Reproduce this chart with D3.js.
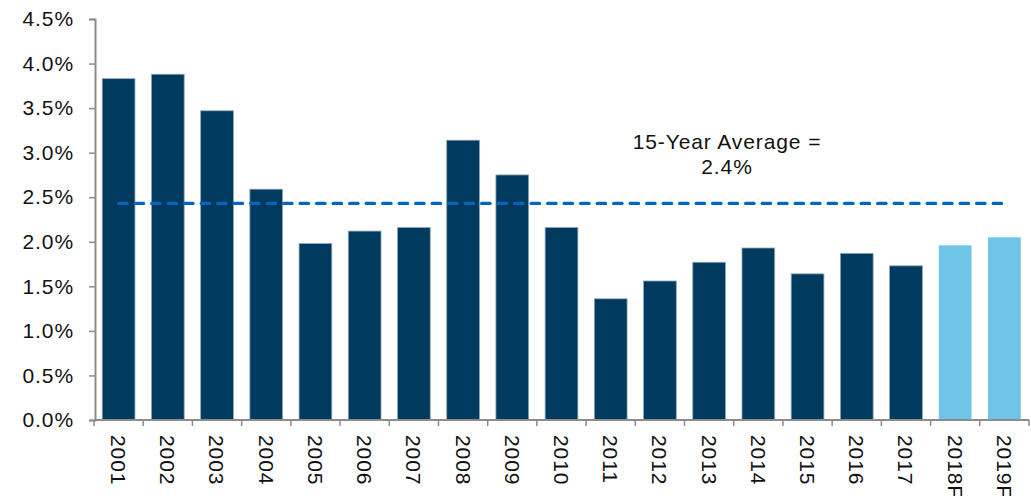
<!DOCTYPE html>
<html>
<head>
<meta charset="utf-8">
<script src="https://cdn.jsdelivr.net/npm/d3@7"></script>
<style>
  html, body { margin: 0; padding: 0; background: #fff; }
  svg text { font-family: "Liberation Sans", Arial, Helvetica, sans-serif; fill: #111; }
</style>
</head>
<body>
<svg id="chart" width="1031" height="496"></svg>
<script>
// Annual rate by year (2018F/2019F are forecasts)
const categories = ["2001","2002","2003","2004","2005","2006","2007","2008","2009","2010",
                    "2011","2012","2013","2014","2015","2016","2017","2018F","2019F"];
const values = [3.83, 3.88, 3.47, 2.59, 1.98, 2.12, 2.16, 3.14, 2.75, 2.16,
                1.36, 1.56, 1.77, 1.93, 1.64, 1.87, 1.73, 1.96, 2.05];
const forecast = ["2018F", "2019F"];
const yTicks = [0, 0.5, 1.0, 1.5, 2.0, 2.5, 3.0, 3.5, 4.0, 4.5];
const average = 2.43;
const averageLabel = ["15-Year Average =", "2.4%"];

const svg = d3.select("#chart");
const plotLeft = 95, plotRight = 1029, plotTop = 19, plotBottom = 420;

const y = d3.scaleLinear().domain([0, 4.5]).range([plotBottom, plotTop]);
// category slots (tick boundaries) and centred bars inside them
const xSlot = d3.scaleBand().domain(categories).range([plotLeft - 1, plotRight]).padding(0);
const barPad = 0.335;
const xBar = d3.scaleBand().domain(categories).range([plotLeft - 1, plotRight])
  .paddingInner(barPad).paddingOuter(barPad / 2);

const axisColor = "#8c8c8c";
const labelSize = "21px", labelSpacing = "0.9px";

// bars
svg.append("g").selectAll("rect").data(categories).join("rect")
  .attr("x", d => xBar(d))
  .attr("width", xBar.bandwidth())
  .attr("y", (d, i) => y(values[i]))
  .attr("height", (d, i) => y(0) - y(values[i]))
  .attr("fill", d => forecast.includes(d) ? "#70C4E8" : "#003A5E")
  .attr("stroke", d => forecast.includes(d) ? "none" : "#8ea6b8")
  .attr("stroke-width", 0.8);

// y axis
const yAxis = d3.axisLeft(y).tickValues(yTicks).tickSize(6).tickPadding(15)
  .tickFormat(d => d.toFixed(1) + "%");
const gy = svg.append("g").attr("transform", `translate(${plotLeft},0)`).call(yAxis);
gy.select(".domain").attr("stroke", axisColor).attr("stroke-width", 2);
gy.selectAll(".tick line").attr("stroke", axisColor).attr("stroke-width", 1.5);
gy.selectAll(".tick text").style("font-size", labelSize).style("letter-spacing", labelSpacing)
  .attr("fill", "#111");

// x axis: labels at slot centres, ticks at slot boundaries
const xAxis = d3.axisBottom(xSlot).tickSize(0).tickPadding(0);
const gx = svg.append("g").attr("transform", `translate(0,${plotBottom})`).call(xAxis);
gx.select(".domain").remove();
gx.selectAll(".tick text")
  .style("font-size", labelSize).style("letter-spacing", labelSpacing)
  .attr("fill", "#111")
  .attr("text-anchor", "start")
  .attr("transform", "translate(0,15) rotate(90)")
  .attr("x", 0).attr("y", 0).attr("dy", "0.36em");
const bounds = categories.map(c => xSlot(c)).concat([xSlot.range()[1]]);
gx.append("line").attr("x1", bounds[0]).attr("x2", bounds[bounds.length - 1])
  .attr("stroke", axisColor).attr("stroke-width", 2);
gx.selectAll("line.bnd").data(bounds).join("line").attr("class", "bnd")
  .attr("x1", d => d).attr("x2", d => d).attr("y1", 0).attr("y2", 6)
  .attr("stroke", axisColor).attr("stroke-width", 1.5);

// average line from first to last bar centre
const c0 = xSlot(categories[0]) + xSlot.bandwidth() / 2;
const c1 = xSlot(categories[categories.length - 1]) + xSlot.bandwidth() / 2;
svg.append("line")
  .attr("x1", c0).attr("x2", c1)
  .attr("y1", y(average)).attr("y2", y(average))
  .attr("stroke", "#0563C1").attr("stroke-width", 3.2)
  .attr("stroke-dasharray", "8.5 8").attr("stroke-linecap", "round");

// annotation
const ann = svg.append("text").attr("text-anchor", "middle")
  .style("font-size", labelSize).style("letter-spacing", labelSpacing);
ann.selectAll("tspan").data(averageLabel).join("tspan")
  .attr("x", 727).attr("y", (d, i) => 149 + i * 25)
  .text(d => d);
</script>
</body>
</html>
